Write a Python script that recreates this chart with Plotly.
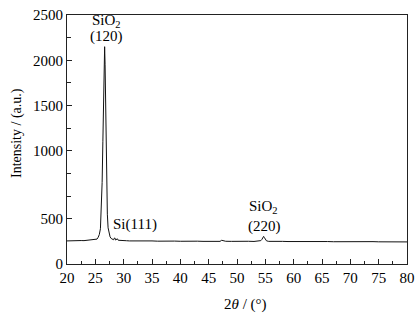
import plotly.graph_objects as go

# 2theta (degrees) and intensity (plotted in axis units; see tick labels)
two_theta = [20, 20.5, 21, 21.5, 22, 22.5, 23, 23.5, 24, 24.5, 25, 25.3, 25.5, 25.7, 25.9,
             26.05, 26.2, 26.33, 26.45, 26.56, 26.64, 26.72, 26.82, 26.92, 27.02, 27.12,
             27.25, 27.4, 27.6, 27.8, 28.0, 28.2, 28.35, 28.45, 28.55, 28.75, 28.9, 29.05,
             29.3, 29.6, 30, 30.5, 31, 31.5, 32, 33, 34, 35, 36, 37, 38, 39, 40, 41, 42, 43,
             44, 45, 46, 47.0, 47.3, 47.5, 47.8, 48, 49, 50, 51, 52, 53, 53.8, 54.2, 54.4,
             54.55, 54.7, 54.85, 55.0, 55.2, 55.6, 56, 57, 58, 59, 60, 61, 62, 63, 64, 65,
             66, 67, 68, 69, 70, 71, 72, 73, 74, 75, 76, 77, 78, 79, 80]
intensity = [5, 7, 6, 9, 7, 9, 8, 11, 9, 12, 15, 25, 45, 75, 140,
             330, 650, 1100, 1650, 2050, 2150, 1950, 1450, 1000, 560, 300,
             150, 85, 50, 32, 22, 18, 35, 38, 15, 20, 28, 12,
             10, 8, 6, 7, 5, 6, 4, 5, 3, 5, 2, 4, 2, 3, 1, 3, 1, 2,
             0, 2, 1, 0, 12, 10, 1, 1, 0, 2, 0, 1, -1, 0, 8, 22,
             45, 55, 40, 18, 6, 0, 1, -1, 0, -2, -1, -2, -1, -3, -2, -3,
             -2, -4, -3, -2, -4, -3, -4, -5, -3, -5, -4, -6, -4, -5, -6]

y_tickvals = [-250, 250, 1000, 1500, 2000, 2500]
y_ticktext = ["0", "500", "1000", "1500", "2000", "2500"]
y_minor = [500, 750, 1250, 1750, 2250]

FONT = "Liberation Serif, Times New Roman, serif"

ML, MR, MT, MB = 67, 10, 15, 57
W, H = 417, 321

fig = go.Figure()
fig.add_trace(go.Scatter(x=two_theta, y=intensity, mode="lines",
                         line=dict(color="#111111", width=1), showlegend=False,
                         hoverinfo="skip"))

fig.update_layout(
    width=W, height=H,
    margin=dict(l=ML, r=MR, t=MT, b=MB, autoexpand=False),
    paper_bgcolor="white", plot_bgcolor="white",
    font=dict(family=FONT, size=15, color="black"),
    xaxis=dict(range=[20, 80], tickmode="linear", tick0=20, dtick=5,
               ticks="inside", ticklen=5, tickcolor="#222", showline=True,
               linecolor="#222", linewidth=1, mirror=True, showgrid=False,
               zeroline=False, automargin=False,
               minor=dict(tickmode="linear", tick0=20, dtick=2.5, ticks="inside",
                          ticklen=3, tickcolor="#222", showgrid=False)),
    yaxis=dict(range=[-250, 2500], tickmode="array", tickvals=y_tickvals,
               ticktext=y_ticktext, ticks="inside", ticklen=5, tickcolor="#222",
               showline=True, linecolor="#222", linewidth=1, mirror=True,
               showgrid=False, zeroline=False, automargin=False,
               minor=dict(tickmode="array", tickvals=y_minor, ticks="inside",
                          ticklen=4, tickcolor="#222", showgrid=False)),
)

ann = [
    dict(x=26.9, y=2432, text="SiO<sub>2</sub>"),
    dict(x=26.9, y=2262, text="(120)"),
    dict(x=31.97, y=191, text="Si(111)"),
    dict(x=54.6, y=378, text="SiO<sub>2</sub>"),
    dict(x=54.85, y=160, text="(220)"),
]
for a in ann:
    fig.add_annotation(x=a["x"], y=a["y"], text=a["text"], showarrow=False,
                       xref="x", yref="y", xanchor="center", yanchor="middle",
                       font=dict(family=FONT, size=15, color="black"))

pw = W - ML - MR
ph = H - MT - MB


def px_to_paper(px, py):
    return (px - ML) / pw, (H - MB - py) / ph


tx, ty = px_to_paper(245, 304)
fig.add_annotation(x=tx, y=ty, xref="paper", yref="paper", text="2<i>θ</i> / (°)",
                   showarrow=False, xanchor="center", yanchor="middle",
                   font=dict(family=FONT, size=15, color="black"))
tx, ty = px_to_paper(17, 133)
fig.add_annotation(x=tx, y=ty, xref="paper", yref="paper", text="Intensity / (a.u.)",
                   textangle=-90, showarrow=False, xanchor="center", yanchor="middle",
                   font=dict(family=FONT, size=14, color="black"))

fig.write_html("out.html", config={"displayModeBar": False, "staticPlot": True},
               post_script="document.body.style.margin='0';document.body.style.padding='0';")
